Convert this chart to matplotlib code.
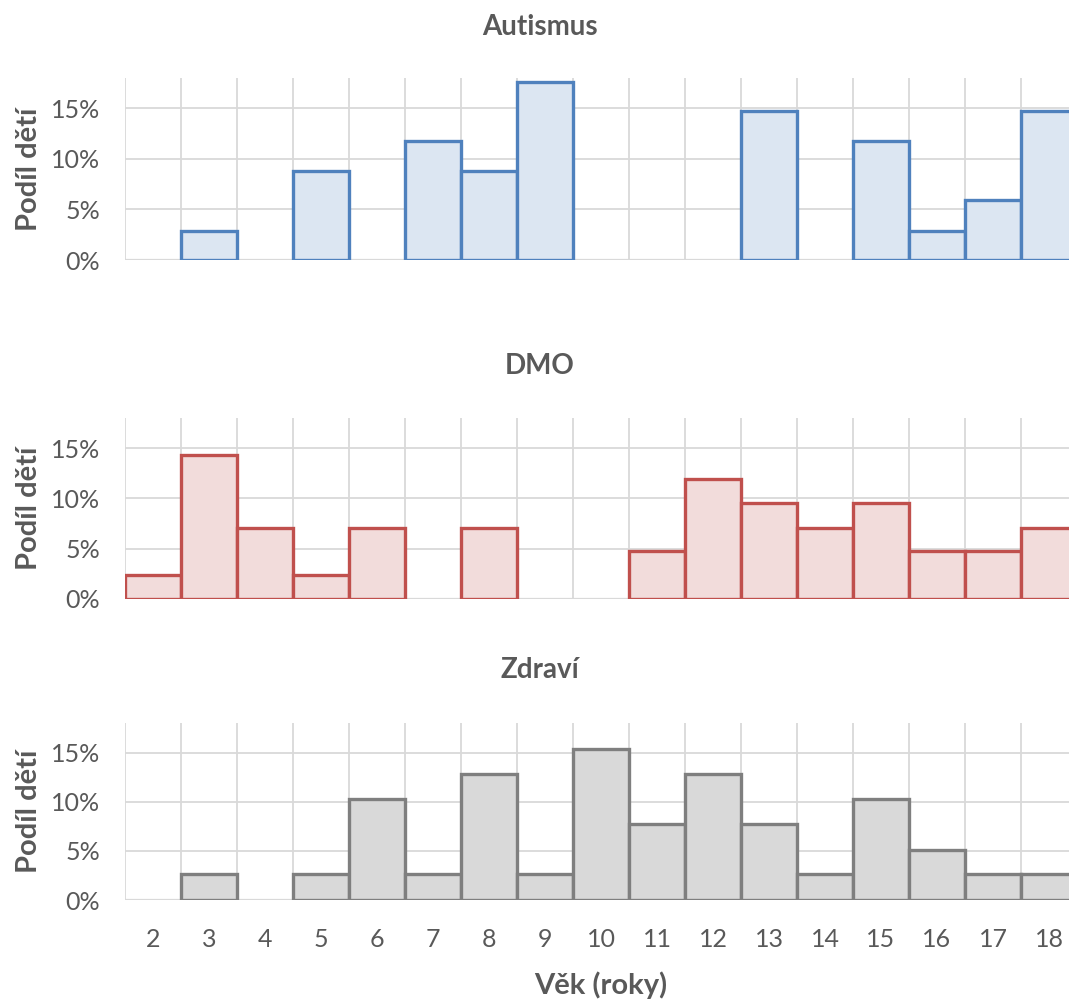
import numpy as np
import matplotlib
matplotlib.use('Agg')
import matplotlib.pyplot as plt
from matplotlib.ticker import PercentFormatter

plt.rcParams['font.family'] = ['Lato', 'DejaVu Sans']

ages = list(range(2, 19))

# podíl dětí v každém věku (%)
autismus = [0, 2.9, 0, 8.8, 0, 11.8, 8.8, 17.6, 0, 0, 0, 14.7, 0, 11.8, 2.9, 5.9, 14.7]
dmo = [2.4, 14.3, 7.1, 2.4, 7.1, 0, 7.1, 0, 0, 4.8, 11.9, 9.5, 7.1, 9.5, 4.8, 4.8, 7.1]
zdravi = [0, 2.6, 0, 2.6, 10.3, 2.6, 12.8, 2.6, 15.4, 7.7, 12.8, 7.7, 2.6, 10.3, 5.1, 2.6, 2.6]

panels = [
    ('Autismus', autismus, '#4F81BD', '#DCE6F2'),
    ('DMO', dmo, '#C0504D', '#F2DCDB'),
    ('Zdraví', zdravi, '#7F7F7F', '#D9D9D9'),
]

text_col = '#595959'
grid_col = '#D9D9D9'

fig = plt.figure(figsize=(10.69, 9.99), dpi=100)

# plot area in pixels (top, bottom)
boxes = [(78, 260), (418, 599), (723, 900)]
title_y = [27, 366, 670]
H = 999.0
left = 125 / 1069
width = 952 / 1069

for i, (name, vals, edge, fill) in enumerate(panels):
    top, bot = boxes[i]
    ax = fig.add_axes([left, 1 - bot / H, width, (bot - top) / H])
    vals = np.array(vals)
    mask = vals > 0
    ax.bar(np.array(ages)[mask], vals[mask], width=1.0, color=fill,
           edgecolor=edge, linewidth=2.4, zorder=3)
    ax.set_xlim(1.5, 18.5)
    ax.set_ylim(0, 18)
    ax.set_yticks([0, 5, 10, 15])
    ax.yaxis.set_major_formatter(PercentFormatter(decimals=0))
    ax.set_xticks(ages)
    ax.set_xticks(np.arange(1.5, 19, 1), minor=True)
    ax.grid(False)
    ax.grid(True, which='minor', axis='x', color=grid_col, linewidth=1.3, zorder=0)
    ax.grid(True, which='major', axis='y', color=grid_col, linewidth=1.3, zorder=0)
    for s in ax.spines.values():
        s.set_visible(False)
    ax.axhline(0, color=grid_col, linewidth=1.6, zorder=2)
    ax.tick_params(which='both', length=0)
    ax.tick_params(axis='y', labelsize=18, labelcolor=text_col, pad=18)
    ax.tick_params(axis='x', labelsize=18, labelcolor=text_col, pad=20)
    if i < 2:
        ax.set_xticklabels([])
    else:
        ax.set_xlabel('Věk (roky)', fontsize=21, fontweight='bold',
                      color=text_col, labelpad=15)
    ax.set_ylabel('Podíl dětí', fontsize=21, fontweight='bold',
                  color=text_col, labelpad=6)
    fig.text(0.505, 1 - title_y[i] / H, name, ha='center', va='center',
             fontsize=20, fontweight='bold', color=text_col)

fig.savefig('out.png', dpi=100)
